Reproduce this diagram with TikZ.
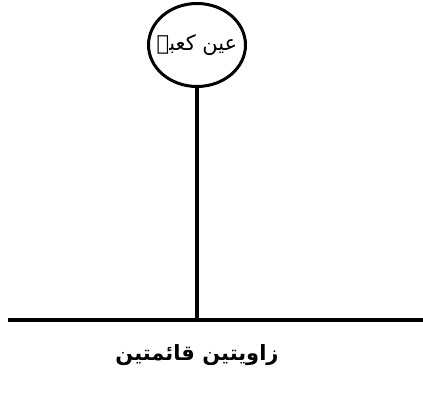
\documentclass[tikz,border=0pt]{standalone}
\usepackage{fontspec}
\usetikzlibrary{shapes.geometric}
\TeXXeTstate=1
\newfontfamily\arabicfont[Script=Arabic]{DejaVu Sans}
\tikzset{
  thickline/.style={line width=3.5pt},
  eyenode/.style={ellipse, draw, line width=3pt, minimum width=97pt, minimum height=83pt, inner xsep=-9pt, inner ysep=0pt, font=\arabicfont\fontsize{21}{24}\selectfont},
  labelnode/.style={font=\arabicfont\bfseries\fontsize{21}{24}\selectfont}
}
\begin{document}
\begin{tikzpicture}[x=1pt,y=1pt]
\useasboundingbox (0,0) rectangle (423,394);
\node[eyenode] (ain) at (197,349) {\beginR عین کعبہ\endR};
\coordinate (foot) at (197,74);
\coordinate (left) at (8,74);
\coordinate (right) at (423,74);
\draw[thickline] (ain.south) -- (foot);
\draw[thickline] (left) -- (right);
\node[labelnode] (label) at (197,39) {\beginR زاویتین قائمتین\endR};
\end{tikzpicture}
\end{document}
